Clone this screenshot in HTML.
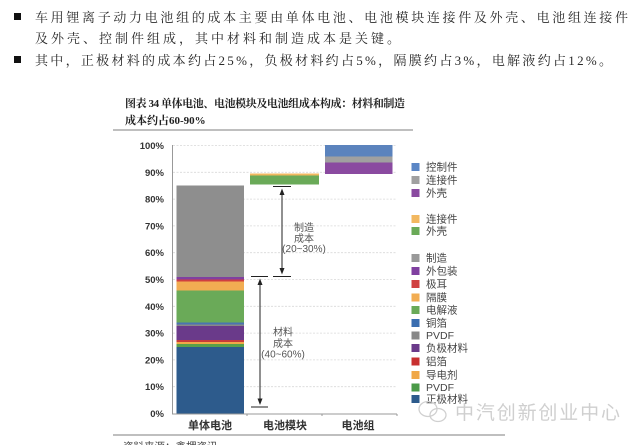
<!DOCTYPE html>
<html>
<head>
<meta charset="utf-8">
<style>
html,body{margin:0;padding:0;background:#fff;}
body{width:640px;height:445px;overflow:hidden;}
svg{display:block;}
.body{font-family:"Liberation Serif","Noto Serif CJK SC",serif;font-size:13px;fill:#2a2a2a;}
.title{font-family:"Liberation Serif","Noto Serif CJK SC",serif;font-size:11px;font-weight:bold;fill:#222;}
.yl{font-family:"Liberation Sans",sans-serif;font-size:9.5px;font-weight:bold;fill:#333;}
.xl{font-family:"Liberation Sans","Noto Sans CJK SC",sans-serif;font-size:11px;font-weight:bold;fill:#333;}
.lg{font-family:"Liberation Sans","Noto Sans CJK SC",sans-serif;font-size:10.5px;fill:#444;}
.an{font-family:"Liberation Sans","Noto Sans CJK SC",sans-serif;font-size:10px;fill:#555;}
.wm{font-family:"Liberation Sans","Noto Sans CJK SC",sans-serif;font-size:19px;fill:#cfcfcf;}
</style>
</head>
<body>
<svg width="640" height="445" viewBox="0 0 640 445" xmlns="http://www.w3.org/2000/svg">
<!-- bullets -->
<rect x="14" y="13" width="7" height="7" fill="#111"/>
<rect x="14" y="56" width="7" height="7" fill="#111"/>
<text class="body" x="35" y="22" textLength="593" lengthAdjust="spacing">车用锂离子动力电池组的成本主要由单体电池、电池模块连接件及外壳、电池组连接件</text>
<text class="body" x="35" y="43" textLength="365" lengthAdjust="spacing">及外壳、控制件组成，其中材料和制造成本是关键。</text>
<text class="body" x="35" y="65" textLength="577" lengthAdjust="spacing">其中，正极材料的成本约占25%，负极材料约占5%，隔膜约占3%，电解液约占12%。</text>

<!-- title -->
<text class="title" x="125" y="107" textLength="280" lengthAdjust="spacing">图表 34 单体电池、电池模块及电池组成本构成：材料和制造</text>
<text class="title" x="125" y="124">成本约占60-90%</text>
<line x1="113" y1="130" x2="413" y2="130" stroke="#999" stroke-width="1.2"/>

<!-- gridlines -->
<g stroke="#d8d8d8" stroke-width="0.8" stroke-dasharray="2,1.5">
<line x1="173" y1="145.5" x2="397" y2="145.5"/>
<line x1="173" y1="172.3" x2="397" y2="172.3"/>
<line x1="173" y1="199.1" x2="397" y2="199.1"/>
<line x1="173" y1="225.9" x2="397" y2="225.9"/>
<line x1="173" y1="252.7" x2="397" y2="252.7"/>
<line x1="173" y1="279.5" x2="397" y2="279.5"/>
<line x1="173" y1="306.3" x2="397" y2="306.3"/>
<line x1="173" y1="333.1" x2="397" y2="333.1"/>
<line x1="173" y1="359.9" x2="397" y2="359.9"/>
<line x1="173" y1="386.7" x2="397" y2="386.7"/>
</g>

<!-- y labels -->
<g class="yl" text-anchor="end">
<text x="164" y="149">100%</text>
<text x="164" y="176">90%</text>
<text x="164" y="202.5">80%</text>
<text x="164" y="229.5">70%</text>
<text x="164" y="256">60%</text>
<text x="164" y="283">50%</text>
<text x="164" y="310">40%</text>
<text x="164" y="336.5">30%</text>
<text x="164" y="363.5">20%</text>
<text x="164" y="390">10%</text>
<text x="164" y="417">0%</text>
</g>

<!-- bar 1 -->
<g>
<rect x="176.5" y="347" width="67.5" height="66.5" fill="#2d5b8c"/>
<rect x="176.5" y="344" width="67.5" height="3" fill="#5aa048"/>
<rect x="176.5" y="342" width="67.5" height="2" fill="#f0a848"/>
<rect x="176.5" y="340" width="67.5" height="2" fill="#c83a3a"/>
<rect x="176.5" y="326" width="67.5" height="14" fill="#6a3a8a"/>
<rect x="176.5" y="324.5" width="67.5" height="1.5" fill="#888"/>
<rect x="176.5" y="322.5" width="67.5" height="2" fill="#4a74b0"/>
<rect x="176.5" y="290.5" width="67.5" height="32" fill="#6aaa58"/>
<rect x="176.5" y="281.5" width="67.5" height="9" fill="#f2ad52"/>
<rect x="176.5" y="279.5" width="67.5" height="2" fill="#d04040"/>
<rect x="176.5" y="277" width="67.5" height="2.5" fill="#8040a0"/>
<rect x="176.5" y="185.5" width="67.5" height="91.5" fill="#8e8e8e"/>
</g>
<!-- bar 2 -->
<rect x="250" y="175.5" width="69" height="9" fill="#6aaa58"/>
<rect x="250" y="173.5" width="69" height="2" fill="#f2b860"/>
<!-- bar 3 -->
<rect x="325" y="162.5" width="67.5" height="11.5" fill="#8a4aa0"/>
<rect x="325" y="156.5" width="67.5" height="6" fill="#a0a0a0"/>
<rect x="325" y="145" width="67.5" height="11.5" fill="#5b83bd"/>

<!-- axes -->
<line x1="172.5" y1="145" x2="172.5" y2="414" stroke="#999" stroke-width="1"/>
<line x1="172" y1="414" x2="397" y2="414" stroke="#999" stroke-width="1"/>
<line x1="247" y1="414" x2="247" y2="416" stroke="#999" stroke-width="1"/>
<line x1="322" y1="414" x2="322" y2="416" stroke="#999" stroke-width="1"/>
<line x1="397" y1="414" x2="397" y2="416" stroke="#999" stroke-width="1"/>

<!-- x labels -->
<g class="xl" text-anchor="middle">
<text x="210" y="429">单体电池</text>
<text x="285" y="429">电池模块</text>
<text x="358" y="429">电池组</text>
</g>

<!-- arrows -->
<g stroke="#222" stroke-width="1">
<line x1="251" y1="276.5" x2="268" y2="276.5"/>
<line x1="251" y1="407" x2="268" y2="407"/>
<line x1="260" y1="282" x2="260" y2="402"/>
<line x1="273" y1="276.5" x2="291" y2="276.5"/>
<line x1="273" y1="186.5" x2="291" y2="186.5"/>
<line x1="282" y1="191" x2="282" y2="272"/>
</g>
<g fill="#222">
<polygon points="260,278.5 257.5,285 262.5,285"/>
<polygon points="260,405 257.5,398.5 262.5,398.5"/>
<polygon points="282,188.5 279.5,195 284.5,195"/>
<polygon points="282,274.5 279.5,268 284.5,268"/>
</g>
<g class="an" text-anchor="middle">
<text x="304" y="231">制造</text>
<text x="304" y="242">成本</text>
<text x="304" y="252">(20~30%)</text>
<text x="283" y="335.5">材料</text>
<text x="283" y="347">成本</text>
<text x="283" y="357.5">(40~60%)</text>
</g>

<!-- legend -->
<g>
<rect x="411.5" y="163" width="8" height="8" fill="#5b86c5"/>
<rect x="411.5" y="176" width="8" height="8" fill="#a0a0a0"/>
<rect x="411.5" y="189" width="8" height="8" fill="#8a4aa0"/>
<rect x="411.5" y="215" width="8" height="8" fill="#f2b860"/>
<rect x="411.5" y="227" width="8" height="8" fill="#6aaa58"/>
<rect x="411.5" y="254" width="8" height="8" fill="#999"/>
<rect x="411.5" y="267" width="8" height="8" fill="#8040a0"/>
<rect x="411.5" y="280" width="8" height="8" fill="#d04040"/>
<rect x="411.5" y="293.5" width="8" height="8" fill="#f2ad52"/>
<rect x="411.5" y="306" width="8" height="8" fill="#6aaa58"/>
<rect x="411.5" y="319" width="8" height="8" fill="#3a6eb0"/>
<rect x="411.5" y="331.5" width="8" height="8" fill="#888"/>
<rect x="411.5" y="344" width="8" height="8" fill="#6a3a8a"/>
<rect x="411.5" y="357.5" width="8" height="8" fill="#c83030"/>
<rect x="411.5" y="371" width="8" height="8" fill="#f0a848"/>
<rect x="411.5" y="383.5" width="8" height="8" fill="#4a9a48"/>
<rect x="411.5" y="395" width="8" height="8" fill="#2d5b8c"/>
</g>
<g class="lg">
<text x="426" y="170.5">控制件</text>
<text x="426" y="183.5">连接件</text>
<text x="426" y="196.5">外壳</text>
<text x="426" y="222.5">连接件</text>
<text x="426" y="234.5">外壳</text>
<text x="426" y="261.5">制造</text>
<text x="426" y="274.5">外包装</text>
<text x="426" y="287.5">极耳</text>
<text x="426" y="301">隔膜</text>
<text x="426" y="313.5">电解液</text>
<text x="426" y="326.5">铜箔</text>
<text x="426" y="339">PVDF</text>
<text x="426" y="351.5">负极材料</text>
<text x="426" y="365">铝箔</text>
<text x="426" y="378.5">导电剂</text>
<text x="426" y="391">PVDF</text>
<text x="426" y="402.5">正极材料</text>
</g>

<!-- bottom rule & source -->
<line x1="113" y1="435" x2="505" y2="435" stroke="#999" stroke-width="1.2"/>
<text class="lg" x="123" y="450" fill="#666">资料来源：鑫椤资讯，</text>

<!-- watermark -->
<g fill="none" stroke="#d0d0d0" stroke-width="1.3">
<ellipse cx="428" cy="409" rx="9" ry="7.5"/>
<ellipse cx="438" cy="415" rx="8" ry="6.5"/>
</g>
<text class="wm" x="455" y="419" textLength="165" lengthAdjust="spacing">中汽创新创业中心</text>
</svg>
</body>
</html>
